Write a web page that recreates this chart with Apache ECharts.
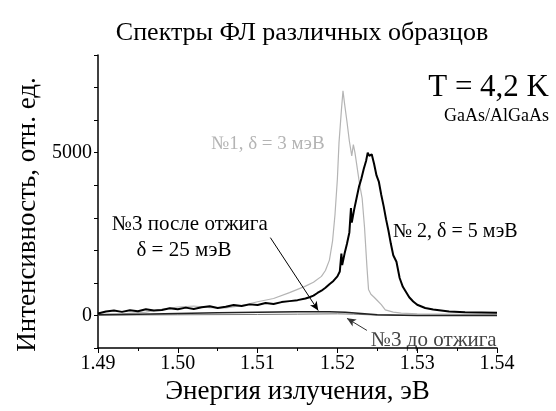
<!DOCTYPE html>
<html>
<head>
<meta charset="utf-8">
<script src="https://cdn.jsdelivr.net/npm/echarts@6/dist/echarts.min.js"></script>
<style>
  html, body { margin: 0; padding: 0; background: #fff; }
  #chart { width: 556px; height: 411px; }
</style>
</head>
<body>
<div id="chart"></div>
<script>
// Спектры ФЛ - энергия (эВ) и интенсивность (отн. ед.)
const xTicks = [1.49, 1.50, 1.51, 1.52, 1.53, 1.54];
const yLabels = [0, 5000];

// №1, δ = 3 мэВ (серая)
const s1E = [1.490, 1.493, 1.496, 1.498, 1.500, 1.502, 1.504, 1.506, 1.508, 1.510, 1.512, 1.514, 1.516, 1.517, 1.518, 1.5185, 1.519, 1.5194, 1.5197, 1.520, 1.5202, 1.5205, 1.5207, 1.5209, 1.5212, 1.5215, 1.5218, 1.522, 1.5222, 1.5225, 1.5228, 1.5231, 1.5234, 1.5237, 1.5239, 1.5242, 1.5246, 1.525, 1.5255, 1.526, 1.527, 1.528, 1.530, 1.533, 1.536, 1.540];
const s1I = [30, 50, 100, 190, 260, 290, 240, 230, 300, 420, 520, 700, 900, 1020, 1200, 1380, 1700, 2300, 3100, 4200, 5300, 6300, 6900, 6500, 5950, 5350, 4900, 5250, 5000, 4500, 4000, 3600, 2700, 1500, 800, 650, 560, 460, 330, 170, 100, 70, 50, 40, 30, 30];

// № 2, δ = 5 мэВ (чёрная, с шумом)
const s2E = [1.490, 1.491, 1.492, 1.493, 1.494, 1.495, 1.496, 1.497, 1.498, 1.499, 1.500, 1.501, 1.502, 1.503, 1.504, 1.505, 1.506, 1.507, 1.508, 1.509, 1.510, 1.511, 1.512, 1.513, 1.514, 1.515, 1.516, 1.5165, 1.517, 1.5175, 1.518, 1.5185, 1.519, 1.5195, 1.520, 1.5203, 1.5205, 1.5206, 1.5209, 1.5212, 1.5215, 1.5217, 1.5218, 1.5221, 1.5224, 1.5227, 1.523, 1.5233, 1.5236, 1.5238, 1.524, 1.5243, 1.5246, 1.5249, 1.5252, 1.5255, 1.5258, 1.5261, 1.5264, 1.5267, 1.527, 1.5274, 1.5278, 1.5282, 1.5286, 1.529, 1.5295, 1.530, 1.531, 1.532, 1.533, 1.534, 1.536, 1.538, 1.540];
const s2I = [60, 120, 150, 110, 160, 130, 190, 150, 170, 220, 190, 240, 200, 250, 280, 230, 270, 320, 290, 340, 320, 380, 350, 410, 440, 470, 520, 560, 610, 690, 760, 850, 960, 1060, 1200, 1350, 1900, 1550, 1900, 2200, 2550, 3300, 2850, 3250, 3600, 3950, 4200, 4500, 4750, 5000, 4900, 4950, 4650, 4300, 4100, 3700, 3350, 2950, 2600, 2200, 1850, 1650, 1150, 880, 720, 560, 430, 330, 230, 180, 150, 120, 100, 90, 80];

// №3 после отжига, δ = 25 мэВ
const s3aE = [1.490, 1.495, 1.500, 1.505, 1.510, 1.515, 1.519, 1.521, 1.523, 1.525, 1.530, 1.540];
const s3aI = [20, 40, 60, 80, 100, 110, 110, 100, 60, 20, 0, 0];

// №3 до отжига
const s3bE = [1.490, 1.500, 1.510, 1.515, 1.520, 1.522, 1.525, 1.530, 1.540];
const s3bI = [10, 20, 30, 40, 50, 40, 10, 0, 0];

const pairs = (xs, ys) => xs.map((x, i) => [x, ys[i]]);
const serif = "'Liberation Serif', serif";

const chart = echarts.init(document.getElementById('chart'));
chart.setOption({
    animation: false,
    backgroundColor: '#fff',
    grid: {
        left: 98,
        right: 59,
        top: 55,
        bottom: 63,
        outerBoundsMode: 'none'
    },
    xAxis: {
        type: 'value',
        min: 1.49,
        max: 1.54,
        interval: 0.01,
        name: 'Энергия излучения, эВ',
        nameLocation: 'middle',
        nameGap: 28,
        nameTextStyle: { fontFamily: serif, fontSize: 27, color: '#000', verticalAlign: 'top' },
        axisLine: { onZero: false, lineStyle: { color: '#000', width: 1.5 } },
        axisTick: { inside: false, length: 5, lineStyle: { color: '#000' } },
        minorTick: { show: true, splitNumber: 2, length: 3, lineStyle: { color: '#000' } },
        axisLabel: {
            fontFamily: serif, fontSize: 20, color: '#000', margin: 6,
            formatter: v => xTicks.some(t => Math.abs(t - v) < 1e-9) ? v.toFixed(2) : ''
        },
        splitLine: { show: false }
    },
    yAxis: {
        type: 'value',
        min: -1000,
        max: 8000,
        interval: 1000,
        name: 'Интенсивность, отн. ед.',
        nameLocation: 'middle',
        nameGap: 53,
        nameRotate: 90,
        nameTextStyle: { fontFamily: serif, fontSize: 27, color: '#000', padding: [0, 26, 0, 0] },
        axisLine: { show: true, lineStyle: { color: '#000', width: 1.5 } },
        axisTick: { show: true, inside: false, length: 4, lineStyle: { color: '#000' } },
        axisLabel: {
            fontFamily: serif, fontSize: 20, color: '#000', margin: 6,
            formatter: v => yLabels.includes(v) ? String(v) : ''
        },
        splitLine: { show: false }
    },
    series: [
        {
            name: '№1',
            type: 'line',
            data: pairs(s1E, s1I),
            showSymbol: false,
            lineStyle: { color: '#b4b4b4', width: 1.2 },
            z: 2
        },
        {
            name: '№3 до отжига',
            type: 'line',
            data: pairs(s3bE, s3bI),
            showSymbol: false,
            lineStyle: { color: '#777', width: 1 },
            z: 3,
            markLine: {
                silent: true,
                symbol: ['none', 'arrow'],
                symbolSize: [6, 9],
                label: { show: false },
                lineStyle: { color: '#333', width: 1, type: 'solid' },
                data: [[{ coord: [1.5237, -460] }, { coord: [1.5212, -90] }]]
            }
        },
        {
            name: '№3 после отжига',
            type: 'line',
            data: pairs(s3aE, s3aI),
            showSymbol: false,
            lineStyle: { color: '#222', width: 1.5 },
            z: 4,
            markLine: {
                silent: true,
                symbol: ['none', 'arrow'],
                symbolSize: [6, 9],
                label: { show: false },
                lineStyle: { color: '#000', width: 1, type: 'solid' },
                data: [[{ coord: [1.5116, 2390] }, { coord: [1.5176, 150] }]]
            }
        },
        {
            name: '№2',
            type: 'line',
            data: pairs(s2E, s2I),
            showSymbol: false,
            lineStyle: { color: '#000', width: 2 },
            z: 5
        }
    ],
    graphic: [
        { type: 'text', x: 302, y: 33, style: { text: 'Спектры ФЛ различных образцов', font: '26px ' + serif, fill: '#000', align: 'center', verticalAlign: 'middle' } },
        { type: 'text', x: 549, y: 88, style: { text: 'T = 4,2 K', font: '31px ' + serif, fill: '#000', align: 'right', verticalAlign: 'middle' } },
        { type: 'text', x: 549, y: 116, style: { text: 'GaAs/AlGaAs', font: '18px ' + serif, fill: '#000', align: 'right', verticalAlign: 'middle' } },
        { type: 'text', x: 211, y: 144, style: { text: '№1, δ = 3 мэВ', font: '19px ' + serif, fill: '#b4b4b4', verticalAlign: 'middle' } },
        { type: 'text', x: 393, y: 232, style: { text: '№ 2, δ = 5 мэВ', font: '20px ' + serif, fill: '#000', verticalAlign: 'middle' } },
        { type: 'text', x: 112, y: 224, style: { text: '№3 после отжига', font: '21px ' + serif, fill: '#000', verticalAlign: 'middle' } },
        { type: 'text', x: 184, y: 250, style: { text: 'δ = 25 мэВ', font: '21px ' + serif, fill: '#000', align: 'center', verticalAlign: 'middle' } },
        { type: 'text', x: 371, y: 340, style: { text: '№3 до отжига', font: '21px ' + serif, fill: '#444', verticalAlign: 'middle' } }
    ]
});
</script>
</body>
</html>
